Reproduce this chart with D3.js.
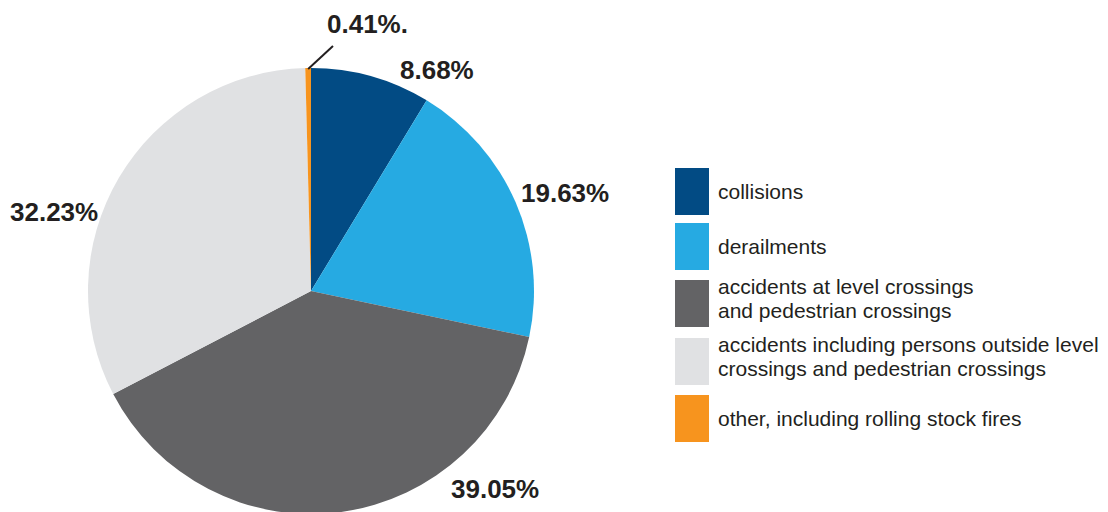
<!DOCTYPE html>
<html>
<head>
<meta charset="utf-8">
<script src="https://cdn.jsdelivr.net/npm/d3@7"></script>
<style>
  html, body { margin: 0; padding: 0; background: #ffffff; }
  svg { display: block; }
</style>
</head>
<body>
<svg id="chart" width="1108" height="512"></svg>
<script>
// Accident categories and their share of all accidents (%)
const categories = [
  "collisions",
  "derailments",
  "accidents at level crossings\nand pedestrian crossings",
  "accidents including persons outside level\ncrossings and pedestrian crossings",
  "other, including rolling stock fires"
];
const shares = [8.68, 19.63, 39.05, 32.23, 0.41];
const shareLabels = ["8.68%", "19.63%", "39.05%", "32.23%", "0.41%."];
const colors = ["#024b84", "#26aae2", "#636365", "#e0e1e3", "#f7941e"];

const W = 1108, H = 512;
const cx = 311, cy = 291, R = 223;

const svg = d3.select("#chart");

const data = categories.map((c, i) => ({ name: c, value: shares[i], label: shareLabels[i], color: colors[i] }));

const pie = d3.pie().sort(null).value(d => d.value).startAngle(0).endAngle(2 * Math.PI);
const arc = d3.arc().innerRadius(0).outerRadius(R);
const arcs = pie(data);

const g = svg.append("g").attr("transform", `translate(${cx},${cy})`);
g.selectAll("path.slice")
  .data(arcs)
  .join("path")
  .attr("class", "slice")
  .attr("d", arc)
  .attr("fill", d => d.data.color);

// Percentage labels, placed around the pie (anchor x, baseline y)
const labelPos = [
  { x: 400, y: 79 },
  { x: 521, y: 202 },
  { x: 451, y: 498 },
  { x: 10,  y: 221 },
  { x: 327, y: 33 }
];
svg.selectAll("text.pct")
  .data(arcs)
  .join("text")
  .attr("class", "pct")
  .attr("x", (d, i) => labelPos[i].x)
  .attr("y", (d, i) => labelPos[i].y)
  .attr("font-family", "Liberation Sans, Arial, sans-serif")
  .attr("font-weight", "bold")
  .attr("font-size", 26)
  .attr("fill", "#231f20")
  .text(d => d.data.label);

// Leader line for the smallest slice, starting at its outer edge
const small = arcs[4];
const midA = (small.startAngle + small.endAngle) / 2;
const p0 = [cx + Math.sin(midA) * (R - 1), cy - Math.cos(midA) * (R - 1)];
svg.append("line")
  .attr("x1", p0[0]).attr("y1", p0[1])
  .attr("x2", 333).attr("y2", 46)
  .attr("stroke", "#231f20")
  .attr("stroke-width", 2);

// Legend
const legendY = [168, 223, 280, 338, 395];
const legend = svg.append("g");
data.forEach((d, i) => {
  const y0 = legendY[i];
  legend.append("rect")
    .attr("x", 675).attr("y", y0)
    .attr("width", 34).attr("height", 47)
    .attr("fill", d.color);
  const lines = d.name.split("\n");
  const lh = 24;
  const firstBase = lines.length === 1 ? y0 + 31 : y0 + 13.5;
  const t = legend.append("text")
    .attr("font-family", "Liberation Sans, Arial, sans-serif")
    .attr("font-size", 21)
    .attr("fill", "#231f20");
  lines.forEach((ln, k) => {
    t.append("tspan").attr("x", 718).attr("y", firstBase + k * lh).text(ln);
  });
});
</script>
</body>
</html>
